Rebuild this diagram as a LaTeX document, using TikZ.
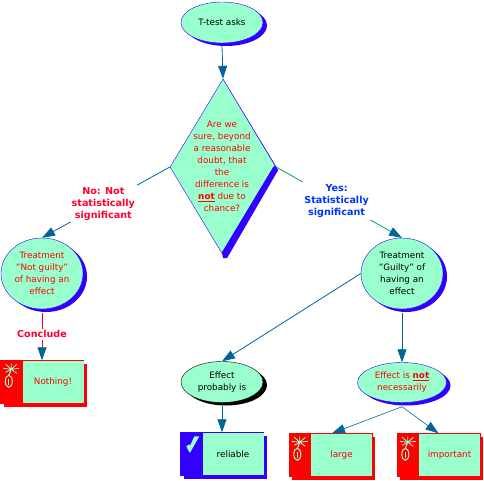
\documentclass[tikz,border=0pt]{standalone}
\usepackage{fontspec}
\setmainfont{DejaVu Sans}
\usepackage{xcolor}
\usetikzlibrary{arrows.meta,positioning,shapes.geometric,shadows,calc}
\definecolor{mint}{HTML}{99FFCC}
\definecolor{shadeblue}{HTML}{3300FF}
\definecolor{linkblue}{HTML}{006699}
\definecolor{linkgreen}{HTML}{009988}
\definecolor{nored}{HTML}{FF0033}
\definecolor{yesblue}{HTML}{0033FF}

\begin{document}
\begin{tikzpicture}[
  x=1pt, y=-1pt, node distance=10pt, on grid,
  txt/.style={font=\fontsize{8.8}{12}\selectfont, align=center, inner sep=0pt},
  blob/.style={ellipse, txt, draw=shadeblue, fill=mint,
               general shadow={shadow xshift=4pt, shadow yshift=-3pt, fill=shadeblue}},
  blackblob/.style={ellipse, txt, draw=black, fill=mint,
               general shadow={shadow xshift=4pt, shadow yshift=-3pt, fill=black}},
  tagbox/.style={rectangle, draw=#1, fill=#1, minimum width=83pt, minimum height=43pt, inner sep=0pt,
               general shadow={shadow xshift=3pt, shadow yshift=-3pt, fill=#1}},
  tagtext/.style={rectangle, txt, fill=mint, minimum width=61pt, minimum height=42pt, anchor=east},
  verdict/.style={txt, font=\fontsize{9.6}{12}\selectfont\bfseries, fill=white, inner sep=2pt},
  arrow/.style={linkblue, -{Triangle[length=13pt, width=9pt, fill=linkblue, color=linkblue]}, line width=0.8pt},
  bomb/.pic={
    \draw[mint, line width=1pt] (0,0) ellipse (3.5pt and 6pt);
    \draw[mint, line width=1pt] (0,-2) -- (0,4);
    \draw[mint, line width=1pt] (0,-6) -- (2.5,-12);
    \draw[mint, line width=0.8pt] (2.5,-12) -- (-5.5,-13) (2.5,-12) -- (10.5,-13)
       (2.5,-12) -- (-3,-17) (2.5,-12) -- (8,-17) (2.5,-12) -- (2.5,-18)
       (2.5,-12) -- (8,-8) (2.5,-12) -- (-3,-9);
  }
]
\useasboundingbox (0,0) rectangle (484,480);
% top of the chart
\node[blob, minimum width=82pt, minimum height=41pt] (test) at (222,22.5) {T-test asks};
\node[diamond, draw=shadeblue, fill=mint, minimum width=106pt, minimum height=176pt, inner sep=0pt, below=144.5pt of test, xshift=1pt] (ask) {};
\fill[shadeblue] (ask.north) -- ($(ask.east)+(2,3)$) -- ($(ask.south)+(4,3)$) -- ($(ask.south)+(0,3)$) -- ($(ask.south)+(-1,-3)$) -- ($(ask.east)+(-3,0)$) -- ($(ask.east)+(-1,-1)$) -- cycle;
\node[txt, text=red, below=144pt of test] (asktext) {Are we\\ sure, beyond\\ a reasonable\\ doubt, that\\ the\\ difference is\\ \textbf{\underline{not}} due to\\ chance?};

% the two verdicts
\node[blob, text=red, minimum width=82pt, minimum height=71pt, below left=106.5pt and 181pt of ask] (innocent) {Treatment\\ "Not guilty"\\ of having an\\ effect};
\node[blob, minimum width=82pt, minimum height=71pt, below right=106.5pt and 179pt of ask] (guilty) {Treatment\\ "Guilty" of\\ having an\\ effect};

% lower row
\node[tagbox=red, below=108.5pt of innocent] (nothing) {};
\node[tagtext, text=red] (nothingtext) at (nothing.east) {Nothing!};
\node[blackblob, minimum width=82pt, minimum height=41pt, below left=108.5pt and 180pt of guilty] (probably) {Effect\\ probably is};
\node[blob, text=red, minimum width=89pt, minimum height=40pt, below=109pt of guilty] (notnec) {Effect is \textbf{\underline{not}}\\ necessarily};
\node[tagbox=shadeblue, below=72pt of probably] (reliable) {};
\node[tagtext] (reliabletext) at (reliable.east) {reliable};
\node[tagbox=red, below=72.5pt of notnec, xshift=-71.5pt] (large) {};
\node[tagtext, text=red] (largetext) at (large.east) {large};
\node[tagbox=red, below=72.5pt of notnec, xshift=36.5pt] (important) {};
\node[tagtext, text=red] (importanttext) at (important.east) {important};

% icons
\pic at ($(nothing.north west)+(8.5,21)$) {bomb};
\pic at ($(large.north west)+(8.5,21)$) {bomb};
\pic at ($(important.north west)+(8.5,21)$) {bomb};
\fill[mint] ($(reliable.north west)+(6,14)$) -- ++(3,-2) -- ++(1,1) -- ++(4,-9) -- ++(5,0) -- ++(-9,16) -- ++(-1,0) -- cycle;

% connectors
\draw[arrow] ($(test.south)+(0,3)$) -- (ask.north);
\draw[arrow] (ask.west) -- node[verdict, text=nored, pos=0.52] (no) {No: Not\\ statistically\\ significant} (innocent.north);
\draw[arrow, draw=linkgreen] (ask.east) -- node[verdict, text=yesblue, pos=0.48] (yes) {Yes:\\ Statistically\\ significant} (guilty.north);
\draw[arrow, draw=red] ($(innocent.south)+(0,4)$) -- node[verdict, text=nored, pos=0.45] (conclude) {Conclude} (nothing.north);
\draw[arrow] (guilty.west) -- (probably.north);
\draw[arrow] ($(guilty.south)+(0,4)$) -- (notnec.north);
\draw[arrow] ($(probably.south)+(0,3)$) -- (reliable.north);
\draw[arrow, line width=0.6pt] ($(notnec.south)+(0,4)$) -- ($(large.north)+(1.5,0)$);
\draw[arrow, line width=0.6pt] ($(notnec.south)+(0,4)$) -- (important.north);
\end{tikzpicture}
\end{document}
